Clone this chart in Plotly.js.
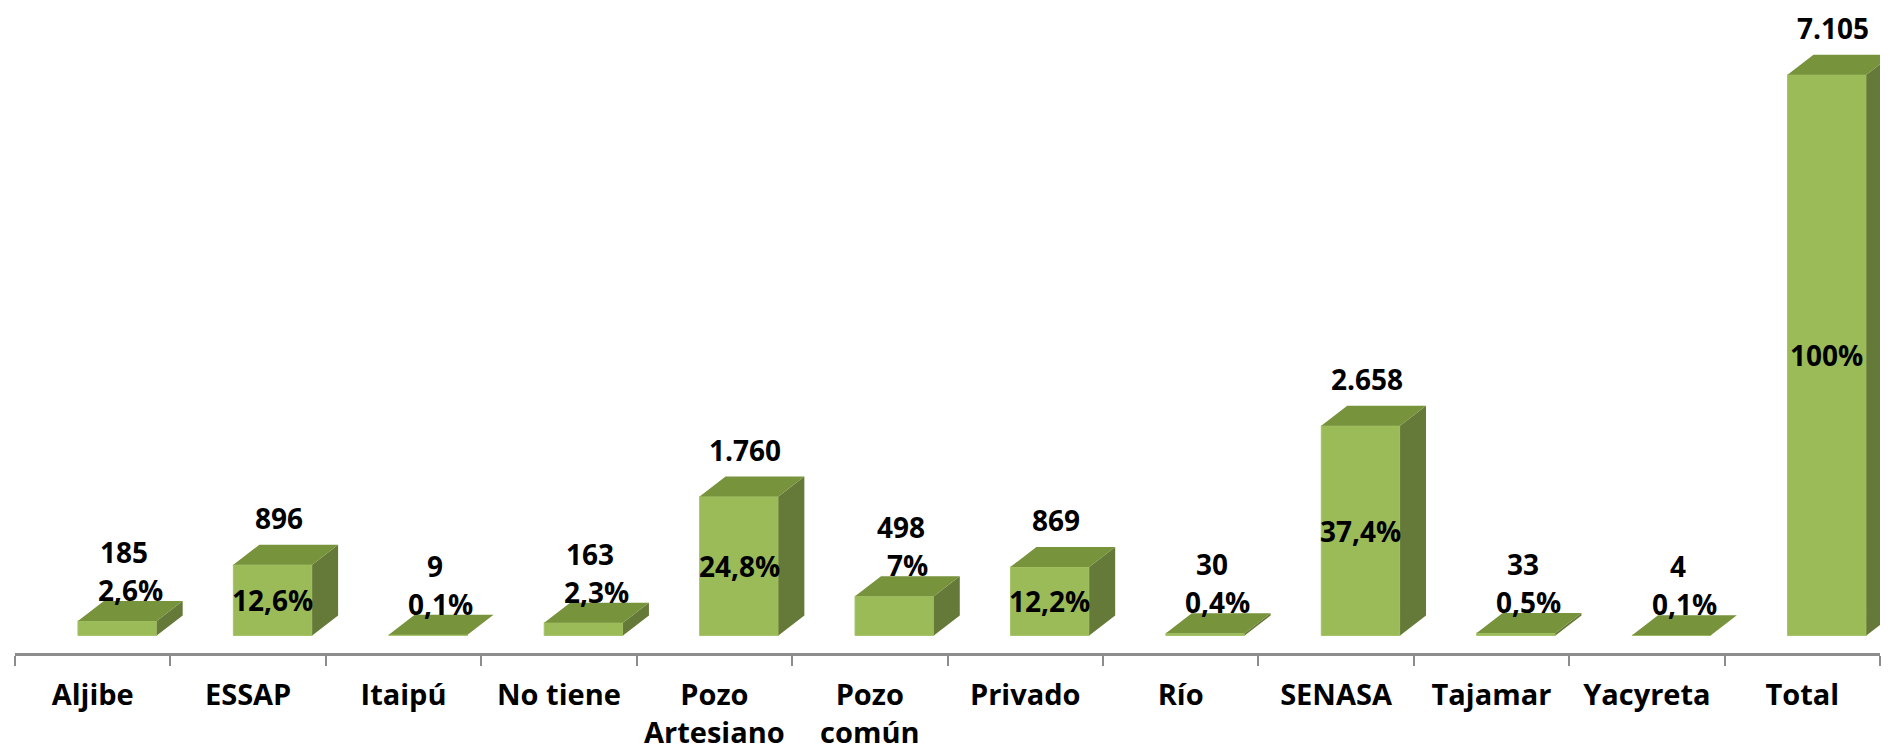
<!DOCTYPE html>
<html><head><meta charset="utf-8">
<script src="https://cdn.plot.ly/plotly-3.0.1.min.js"></script>
<style>html,body{margin:0;padding:0;background:#fff}#chart{width:1890px;height:752px}</style>
</head><body><div id="chart"></div>
<script>
const categories = ['Aljibe','ESSAP','Itaipú','No tiene','Pozo Artesiano','Pozo común','Privado','Río','SENASA','Tajamar','Yacyreta','Total'];
const values = [185,896,9,163,1760,498,869,30,2658,33,4,7105];
const valueLabels = ['185','896','9','163','1.760','498','869','30','2.658','33','4','7.105'];
const pctLabels = ['2,6%','12,6%','0,1%','2,3%','24,8%','7%','12,2%','0,4%','37,4%','0,5%','0,1%','100%'];

const FRONT = '#9BBB59', TOP = '#77933C', SIDE = '#657A38';
const OFF = -0.095, W = 0.507, DX = 0.167, DY = 253;
const FONT = {family: 'Open Sans, Liberation Sans, sans-serif', size: 28, color: '#000', weight: 700};
const TICKFONT = {family: 'Open Sans, Liberation Sans, sans-serif', size: 29, color: '#000', weight: 700};

const tickText = categories.map(c => c.startsWith('Pozo ') ? c.replace(' ', '<br>') : c);

const front = {
  type: 'bar', x: categories, y: values, width: W, offset: OFF,
  marker: {color: FRONT, line: {color: '#A6C46A', width: 1}},
  hoverinfo: 'none', showlegend: false
};

const topX = [], topY = [], sideX = [], sideY = [];
values.forEach((v, i) => {
  const x0 = i + OFF, x1 = x0 + W;
  topX.push(x0, x1, x1 + DX, x0 + DX, x0, null);
  topY.push(v, v, v + DY, v + DY, v, null);
  sideX.push(x1, x1 + DX, x1 + DX, x1, x1, null);
  sideY.push(0, DY, v + DY, v, 0, null);
});
const side = {type: 'scatter', mode: 'lines', x: sideX, y: sideY, xaxis: 'x2', fill: 'toself',
  fillcolor: SIDE, line: {width: 0, color: SIDE}, hoverinfo: 'none', showlegend: false};
const topF = {type: 'scatter', mode: 'lines', x: topX, y: topY, xaxis: 'x2', fill: 'toself',
  fillcolor: TOP, line: {width: 0, color: TOP}, hoverinfo: 'none', showlegend: false};

const annotations = [];
values.forEach((v, i) => {
  const tall = v > 650;
  if (tall) {
    annotations.push({xref: 'x2', yref: 'y', x: i + OFF + W / 2, y: v / 2, text: pctLabels[i],
      showarrow: false, font: FONT, xanchor: 'center', yanchor: 'middle'});
    annotations.push({xref: 'x2', yref: 'y', x: i + 0.2, y: v, yshift: 47, text: valueLabels[i],
      showarrow: false, font: FONT, xanchor: 'center', yanchor: 'middle'});
  } else {
    annotations.push({xref: 'x2', yref: 'y', x: i + 0.24, y: v, yshift: 31, text: pctLabels[i],
      showarrow: false, font: FONT, xanchor: 'center', yanchor: 'middle'});
    annotations.push({xref: 'x2', yref: 'y', x: i + 0.2, y: v, yshift: 69, text: valueLabels[i],
      showarrow: false, font: FONT, xanchor: 'center', yanchor: 'middle'});
  }
});

const layout = {
  width: 1890, height: 752,
  margin: {l: 15, r: 10, t: 0, b: 99},
  paper_bgcolor: '#fff', plot_bgcolor: '#fff',
  xaxis: {type: 'category', range: [-0.5, 11.5], tickson: 'boundaries', ticks: 'outside',
    ticklen: 10, tickwidth: 2, tickcolor: '#8C8C8C', showline: true, linecolor: '#8C8C8C',
    linewidth: 3, showgrid: false, zeroline: false, tickvals: categories, ticktext: tickText,
    tickfont: TICKFONT, ticklabelstandoff: 14, fixedrange: true},
  xaxis2: {overlaying: 'x', type: 'linear', range: [-0.5, 11.5], visible: false, fixedrange: true},
  yaxis: {range: [-221.7, 8051], visible: false, showgrid: false, zeroline: false, fixedrange: true},
  annotations: annotations,
  showlegend: false
};

Plotly.newPlot('chart', [front, side, topF], layout, {displayModeBar: false, staticPlot: true});
</script></body></html>
